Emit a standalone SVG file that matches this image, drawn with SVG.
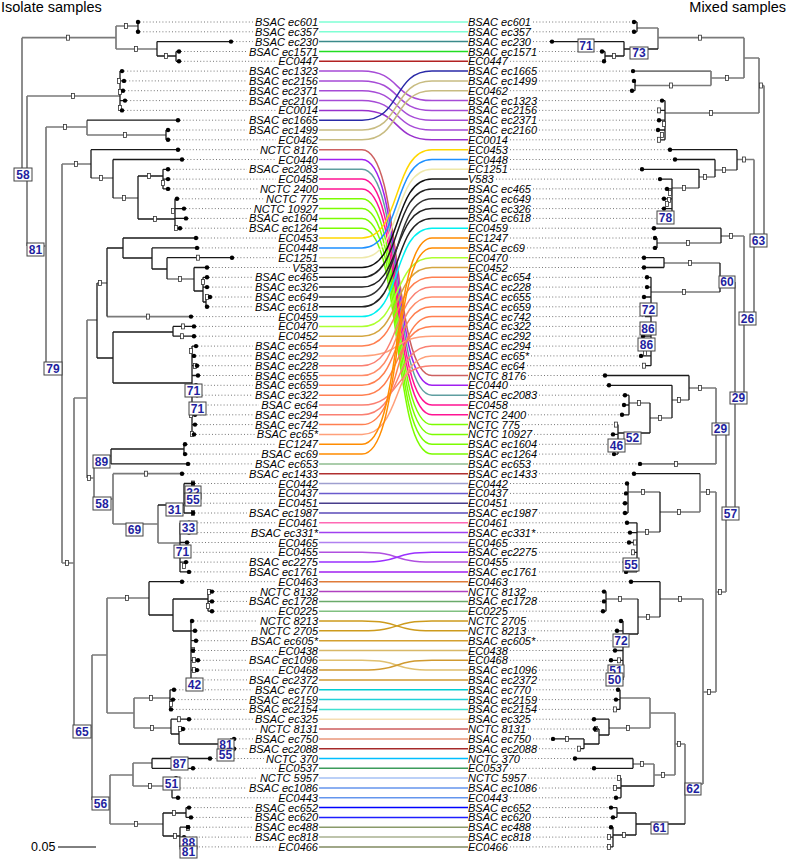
<svg xmlns="http://www.w3.org/2000/svg" xmlns:xlink="http://www.w3.org/1999/xlink" width="787" height="859" viewBox="0 0 787 859">
<style>
.g{fill:none;stroke:#7a7a7a;stroke-width:1.7}
.k{fill:none;stroke:#1a1a1a;stroke-width:1.3}
.dt{fill:none;stroke:#777;stroke-width:1;stroke-dasharray:1 2.2}
.m{fill:#fff;stroke:#333;stroke-width:0.8}
.tl{font-family:"Liberation Sans",Arial,sans-serif;font-size:11px;font-style:italic;fill:#000}
.nb{fill:#fff;stroke:#444;stroke-width:1}
.nt{font-family:"Liberation Sans",Arial,sans-serif;font-size:12px;font-weight:bold;fill:#1f1fa0;text-anchor:middle}
.c path{fill:none;stroke-width:1.5}
.ttl{font-family:"Liberation Sans",Arial,sans-serif;font-size:14.5px;fill:#000}
</style>
<defs>
<rect id="mk" class="m" x="-1.5" y="-2.5" width="3" height="5"/>
<circle id="tp" r="2.2" fill="#000"/>
</defs>
<rect width="787" height="859" fill="#fff"/>
<text class="ttl" x="1" y="12">Isolate samples</text>
<text class="ttl" x="786" y="12" text-anchor="end">Mixed samples</text>

<g id="connectors" class="c">
<path stroke="#7fffd4" d="M319,22H468"/>
<path stroke="#7fffd4" d="M319,31.8H468"/>
<path stroke="#3a8a8a" d="M319,41.6H468"/>
<path stroke="#22dd22" d="M319,51.5H468"/>
<path stroke="#b22222" d="M319,61.3H468"/>
<path stroke="#a64bd6" d="M319,71.1H362C402,71.1 392,100.6 432,100.6H468"/>
<path stroke="#a64bd6" d="M319,80.9H362C402,80.9 392,110.4 432,110.4H468"/>
<path stroke="#a64bd6" d="M319,90.7H362C402,90.7 392,120.2 432,120.2H468"/>
<path stroke="#a64bd6" d="M319,100.6H362C402,100.6 392,130 432,130H468"/>
<path stroke="#9932cc" d="M319,110.4H362C402,110.4 392,139.8 432,139.8H468"/>
<path stroke="#2a2aa8" d="M319,120.2H362C402,120.2 392,71.1 432,71.1H468"/>
<path stroke="#c8bc82" d="M319,130H362C402,130 392,80.9 432,80.9H468"/>
<path stroke="#c8bc82" d="M319,139.8H362C402,139.8 392,90.7 432,90.7H468"/>
<path stroke="#cd6060" d="M319,149.7H362C402,149.7 392,375.5 432,375.5H468"/>
<path stroke="#a020f0" d="M319,159.5H362C402,159.5 392,385.3 432,385.3H468"/>
<path stroke="#5f9ea0" d="M319,169.3H362C402,169.3 392,395.2 432,395.2H468"/>
<path stroke="#ff1493" d="M319,179.1H362C402,179.1 392,405 432,405H468"/>
<path stroke="#ff1493" d="M319,188.9H362C402,188.9 392,414.8 432,414.8H468"/>
<path stroke="#7cfc00" d="M319,198.8H362C402,198.8 392,424.6 432,424.6H468"/>
<path stroke="#7cfc00" d="M319,208.6H362C402,208.6 392,434.4 432,434.4H468"/>
<path stroke="#7cfc00" d="M319,218.4H362C402,218.4 392,444.3 432,444.3H468"/>
<path stroke="#7cfc00" d="M319,228.2H362C402,228.2 392,454.1 432,454.1H468"/>
<path stroke="#ffd700" d="M319,238H362C402,238 392,149.7 432,149.7H468"/>
<path stroke="#1e90ff" d="M319,247.9H362C402,247.9 392,159.5 432,159.5H468"/>
<path stroke="#eee8aa" d="M319,257.7H362C402,257.7 392,169.3 432,169.3H468"/>
<path stroke="#111" d="M319,267.5H362C402,267.5 392,179.1 432,179.1H468"/>
<path stroke="#222" d="M319,277.3H362C402,277.3 392,188.9 432,188.9H468"/>
<path stroke="#222" d="M319,287.1H362C402,287.1 392,208.6 432,208.6H468"/>
<path stroke="#333" d="M319,297H362C402,297 392,198.8 432,198.8H468"/>
<path stroke="#222" d="M319,306.8H362C402,306.8 392,218.4 432,218.4H468"/>
<path stroke="#00f0f0" d="M319,316.6H362C402,316.6 392,228.2 432,228.2H468"/>
<path stroke="#adff2f" d="M319,326.4H362C402,326.4 392,257.7 432,257.7H468"/>
<path stroke="#d4a640" d="M319,336.2H362C402,336.2 392,267.5 432,267.5H468"/>
<path stroke="#ff7f50" d="M319,346.1H362C402,346.1 392,277.3 432,277.3H468"/>
<path stroke="#ffa07a" d="M319,355.9H362C402,355.9 392,336.2 432,336.2H468"/>
<path stroke="#fa8072" d="M319,365.7H362C402,365.7 392,287.1 432,287.1H468"/>
<path stroke="#ff8c69" d="M319,375.5H362C402,375.5 392,297 432,297H468"/>
<path stroke="#ff7f50" d="M319,385.3H362C402,385.3 392,306.8 432,306.8H468"/>
<path stroke="#ff7f50" d="M319,395.2H362C402,395.2 392,326.4 432,326.4H468"/>
<path stroke="#fa8072" d="M319,405H362C402,405 392,365.7 432,365.7H468"/>
<path stroke="#fa8072" d="M319,414.8H362C402,414.8 392,346.1 432,346.1H468"/>
<path stroke="#ff7f50" d="M319,424.6H362C402,424.6 392,316.6 432,316.6H468"/>
<path stroke="#ffa07a" d="M319,434.4H362C402,434.4 392,355.9 432,355.9H468"/>
<path stroke="#ff8c00" d="M319,444.3H362C402,444.3 392,238 432,238H468"/>
<path stroke="#ff8c00" d="M319,454.1H362C402,454.1 392,247.9 432,247.9H468"/>
<path stroke="#8fbc8f" d="M319,463.9H468"/>
<path stroke="#b03030" d="M319,473.7H468"/>
<path stroke="#9f9fcf" d="M319,483.5H468"/>
<path stroke="#6a5acd" d="M319,493.4H468"/>
<path stroke="#483d8b" d="M319,503.2H468"/>
<path stroke="#5a4ab8" d="M319,513H468"/>
<path stroke="#ff69b4" d="M319,522.8H468"/>
<path stroke="#a040f0" d="M319,532.6H468"/>
<path stroke="#b080f0" d="M319,542.5H468"/>
<path stroke="#b050e0" d="M319,552.3H362C402,552.3 392,562.1 432,562.1H468"/>
<path stroke="#9b30ff" d="M319,562.1H362C402,562.1 392,552.3 432,552.3H468"/>
<path stroke="#a020f0" d="M319,571.9H468"/>
<path stroke="#e07b39" d="M319,581.7H468"/>
<path stroke="#b040c0" d="M319,591.6H468"/>
<path stroke="#6aaa6a" d="M319,601.4H468"/>
<path stroke="#80c080" d="M319,611.2H468"/>
<path stroke="#cd9b1d" d="M319,621H362C402,621 392,630.8 432,630.8H468"/>
<path stroke="#cd9b1d" d="M319,630.8H362C402,630.8 392,621 432,621H468"/>
<path stroke="#d4a030" d="M319,640.7H468"/>
<path stroke="#d8b868" d="M319,650.5H468"/>
<path stroke="#e0c070" d="M319,660.3H362C402,660.3 392,670.1 432,670.1H468"/>
<path stroke="#d09a30" d="M319,670.1H362C402,670.1 392,660.3 432,660.3H468"/>
<path stroke="#d09a30" d="M319,679.9H468"/>
<path stroke="#00ced1" d="M319,689.8H468"/>
<path stroke="#20d0d8" d="M319,699.6H468"/>
<path stroke="#40e0d0" d="M319,709.4H468"/>
<path stroke="#f5deb3" d="M319,719.2H468"/>
<path stroke="#cd5c5c" d="M319,729H468"/>
<path stroke="#e9967a" d="M319,738.9H468"/>
<path stroke="#a52a2a" d="M319,748.7H468"/>
<path stroke="#00bfff" d="M319,758.5H468"/>
<path stroke="#3c9c5c" d="M319,768.3H468"/>
<path stroke="#a4c0f4" d="M319,778.1H468"/>
<path stroke="#6495ed" d="M319,788H468"/>
<path stroke="#6495ed" d="M319,797.8H468"/>
<path stroke="#0000ff" d="M319,807.6H468"/>
<path stroke="#1e1eff" d="M319,817.4H468"/>
<path stroke="#8a9a6a" d="M319,827.2H468"/>
<path stroke="#a8b090" d="M319,837.1H468"/>
<path stroke="#808a60" d="M319,846.9H468"/>
</g>

<g id="left-tree">
<path class="dt" d="M140,22H253M140,31.8H253M233,41.6H253M181,51.5H247M181,61.3H276M124,71.1H247M126,80.9H247M125,90.7H247M127,100.6H247M124,110.4H276M180,120.2H247M170,130H247M170,139.8H276M180,149.7H258M184,159.5H276M170,169.3H247M170,179.1H276M170,188.9H258M179,198.8H264M186,208.6H252M188,218.4H247M182,228.2H247M198,238H276M199,247.9H276M234,257.7H276M209,267.5H290M209,277.3H253M209,287.1H253M212,297H253M209,306.8H253M193,316.6H276M196,326.4H276M196,336.2H276M198,346.1H253M196,355.9H253M199,365.7H253M200,375.5H253M198,385.3H253M199,395.2H253M198,405H259M197,414.8H253M197,424.6H253M196,434.4H255M187,444.3H276M187,454.1H259M190,463.9H253M184,473.7H247M195,483.5H276M194,493.4H276M194,503.2H276M195,513H247M191,522.8H276M191,532.6H249M189,542.5H276M187,552.3H276M188,562.1H247M191,571.9H247M184,581.7H276M214,591.6H258M214,601.4H247M214,611.2H276M194,621H258M197,630.8H258M198,640.7H249M195,650.5H276M200,660.3H247M199,670.1H276M198,679.9H247M176,689.8H253M175,699.6H247M173,709.4H247M191,719.2H253M185,729H258M236,738.9H253M236,748.7H247M212,758.5H264M195,768.3H276M178,778.1H258M177,788H247M180,797.8H276M191,807.6H253M193,817.4H253M190,827.2H253M186,837.1H253M186,846.9H276"/>
<path class="g" d="M22,37.7V171M22,37.7H116M116,26V49M116,26H138M116,49H157M22,171H27M27,96V246M27,96H120M27,246H46M46,127V364M46,127H87M87,120.2V135M87,135H166M46,364H62M62,164V563M62,164H91M91,178H113M113,198H138M62,563H74M74,398V727M74,398H87M87,320V478M87,320H97M97,283H107M167,279H194M107,316.6H191M87,478H94M94,456V499M94,456H111M94,499H113M113,473.7V524M113,473.7H182M113,524H158M158,505V543M158,543H180M74,727H92M92,655V800M92,655H107M107,598V713M107,598H149M107,713H134M134,698V728M134,698H170M134,728H171M92,800H110M110,775V824M110,775H133M133,763V786M133,763H152M133,786H163M110,824H163"/>
<path class="k" d="M138,22V31.8M157,41.6V56M157,41.6H231M157,56H176M176,51.5V61.3M176,51.5H179M176,61.3H179M120,71.1V110.4M120,71.1H122M120,80.9H124M120,90.7H123M120,100.6H125M120,110.4H122M87,120.2H178M166,130V139.8M166,130H168M166,139.8H168M91,149.7V178M91,149.7H178M113,159.5V198M113,159.5H182M138,176V219M138,176H163M138,219H175M163,169.3V188.9M163,169.3H168M163,179.1H168M163,188.9H168M175,198.8V228.2M175,198.8H177M175,208.6H184M175,218.4H186M175,228.2H180M97,283V358M107,248V316.6M107,248H123M123,238V258M123,238H196M123,258H152M152,247.9V269M152,247.9H197M152,269H167M167,257.7V279M167,257.7H232M194,267.5V291M194,267.5H207M194,291H203M203,277.3V302M203,277.3H207M203,287.1H207M203,302H206M206,297V306.8M206,297H210M206,306.8H207M97,358H113M113,332V383M113,332H173M173,326.4V336.2M173,326.4H194M173,336.2H194M113,383H192M192,346.1V434.4M192,346.1H196M192,355.9H194M192,365.7H197M192,375.5H198M192,385.3H196M192,395.2H197M192,405H196M192,414.8H195M192,424.6H195M192,434.4H194M111,449V464M111,449H184M111,463.9H188M184,444.3V454.1M184,444.3H185M184,454.1H185M158,505H184M184,483.5V513M184,483.5H193M184,493.4H192M184,503.2H192M184,513H193M180,522.8V571.9M180,522.8H189M180,532.6H189M180,542.5H187M180,552.3H185M180,562.1H186M180,571.9H189M149,581.7V615M149,581.7H182M149,615H173M173,599V631M173,599H208M173,631H191M208,591.6V611.2M208,591.6H212M208,601.4H212M208,611.2H212M191,621V679.9M191,621H192M191,630.8H195M191,640.7H196M191,650.5H193M191,660.3H198M191,670.1H197M191,679.9H196M170,689.8V709.4M170,689.8H174M170,699.6H173M170,709.4H171M171,719.2V734M171,719.2H189M171,734H179M179,729V744M179,729H183M179,744H230M230,738.9V748.7M230,738.9H234M230,748.7H234M152,758.5V768.3M152,758.5H210M152,768.3H193M163,786H172M172,778.1V797.8M172,778.1H176M172,788H175M172,797.8H178M163,813V836M163,813H186M163,836H180M186,807.6V817.4M186,807.6H189M186,817.4H191M180,827.2V846.9M180,827.2H188M180,837.1H184M180,846.9H184"/>
<g id="left-markers">
<use href="#mk" x="68" y="37.7"/><use href="#mk" x="126" y="26"/><use href="#mk" x="136" y="49"/><use href="#mk" x="166" y="56"/><use href="#mk" x="73" y="96"/><use href="#mk" x="119" y="81"/><use href="#mk" x="120" y="92"/><use href="#mk" x="120" y="108"/><use href="#mk" x="65" y="127"/><use href="#mk" x="125" y="135"/><use href="#mk" x="76" y="164"/><use href="#mk" x="101" y="178"/><use href="#mk" x="124" y="198"/><use href="#mk" x="149" y="176"/><use href="#mk" x="155" y="219"/><use href="#mk" x="163" y="183"/><use href="#mk" x="173" y="211"/><use href="#mk" x="176" y="228"/><use href="#mk" x="67" y="563"/><use href="#mk" x="100" y="283"/><use href="#mk" x="198" y="257.7"/><use href="#mk" x="180" y="279"/><use href="#mk" x="203" y="282"/><use href="#mk" x="207" y="297"/><use href="#mk" x="148" y="316.6"/><use href="#mk" x="183" y="326.4"/><use href="#mk" x="182" y="336.2"/><use href="#mk" x="191" y="351"/><use href="#mk" x="195" y="366"/><use href="#mk" x="191" y="415"/><use href="#mk" x="192" y="434"/><use href="#mk" x="89" y="478"/><use href="#mk" x="146" y="473.7"/><use href="#mk" x="193" y="483.5"/><use href="#mk" x="193" y="513"/><use href="#mk" x="185" y="552"/><use href="#mk" x="184" y="566"/><use href="#mk" x="127" y="598"/><use href="#mk" x="209" y="592"/><use href="#mk" x="208" y="606"/><use href="#mk" x="193" y="650"/><use href="#mk" x="194" y="660"/><use href="#mk" x="194" y="670"/><use href="#mk" x="151" y="698"/><use href="#mk" x="171" y="704"/><use href="#mk" x="152" y="728"/><use href="#mk" x="179" y="719.2"/><use href="#mk" x="180" y="729"/><use href="#mk" x="150" y="786"/><use href="#mk" x="136" y="824"/><use href="#mk" x="174" y="813"/><use href="#mk" x="175" y="836"/><use href="#mk" x="188" y="828"/>
</g>
<g id="left-tipdots">
<use href="#tp" x="138" y="22"/><use href="#tp" x="138" y="31.8"/><use href="#tp" x="231" y="41.6"/><use href="#tp" x="179" y="51.5"/><use href="#tp" x="179" y="61.3"/><use href="#tp" x="122" y="71.1"/><use href="#tp" x="124" y="80.9"/><use href="#tp" x="123" y="90.7"/><use href="#tp" x="125" y="100.6"/><use href="#tp" x="122" y="110.4"/><use href="#tp" x="178" y="120.2"/><use href="#tp" x="168" y="130"/><use href="#tp" x="168" y="139.8"/><use href="#tp" x="178" y="149.7"/><use href="#tp" x="182" y="159.5"/><use href="#tp" x="168" y="169.3"/><use href="#tp" x="168" y="179.1"/><use href="#tp" x="168" y="188.9"/><use href="#tp" x="177" y="198.8"/><use href="#tp" x="184" y="208.6"/><use href="#tp" x="186" y="218.4"/><use href="#tp" x="180" y="228.2"/><use href="#tp" x="196" y="238"/><use href="#tp" x="197" y="247.9"/><use href="#tp" x="232" y="257.7"/><use href="#tp" x="207" y="267.5"/><use href="#tp" x="207" y="277.3"/><use href="#tp" x="207" y="287.1"/><use href="#tp" x="210" y="297"/><use href="#tp" x="207" y="306.8"/><use href="#tp" x="191" y="316.6"/><use href="#tp" x="194" y="326.4"/><use href="#tp" x="194" y="336.2"/><use href="#tp" x="196" y="346.1"/><use href="#tp" x="194" y="355.9"/><use href="#tp" x="197" y="365.7"/><use href="#tp" x="198" y="375.5"/><use href="#tp" x="196" y="385.3"/><use href="#tp" x="197" y="395.2"/><use href="#tp" x="196" y="405"/><use href="#tp" x="195" y="414.8"/><use href="#tp" x="195" y="424.6"/><use href="#tp" x="194" y="434.4"/><use href="#tp" x="185" y="444.3"/><use href="#tp" x="185" y="454.1"/><use href="#tp" x="188" y="463.9"/><use href="#tp" x="182" y="473.7"/><use href="#tp" x="193" y="483.5"/><use href="#tp" x="192" y="493.4"/><use href="#tp" x="192" y="503.2"/><use href="#tp" x="193" y="513"/><use href="#tp" x="189" y="522.8"/><use href="#tp" x="189" y="532.6"/><use href="#tp" x="187" y="542.5"/><use href="#tp" x="185" y="552.3"/><use href="#tp" x="186" y="562.1"/><use href="#tp" x="189" y="571.9"/><use href="#tp" x="182" y="581.7"/><use href="#tp" x="212" y="591.6"/><use href="#tp" x="212" y="601.4"/><use href="#tp" x="212" y="611.2"/><use href="#tp" x="192" y="621"/><use href="#tp" x="195" y="630.8"/><use href="#tp" x="196" y="640.7"/><use href="#tp" x="193" y="650.5"/><use href="#tp" x="198" y="660.3"/><use href="#tp" x="197" y="670.1"/><use href="#tp" x="196" y="679.9"/><use href="#tp" x="174" y="689.8"/><use href="#tp" x="173" y="699.6"/><use href="#tp" x="171" y="709.4"/><use href="#tp" x="189" y="719.2"/><use href="#tp" x="183" y="729"/><use href="#tp" x="234" y="738.9"/><use href="#tp" x="234" y="748.7"/><use href="#tp" x="210" y="758.5"/><use href="#tp" x="193" y="768.3"/><use href="#tp" x="176" y="778.1"/><use href="#tp" x="175" y="788"/><use href="#tp" x="178" y="797.8"/><use href="#tp" x="189" y="807.6"/><use href="#tp" x="191" y="817.4"/><use href="#tp" x="188" y="827.2"/><use href="#tp" x="184" y="837.1"/><use href="#tp" x="184" y="846.9"/>
</g>
</g>

<g id="right-tree">
<path class="dt" d="M533,22H632M533,31.8H632M533,41.6H550M539,51.5H600M510,61.3H602M539,71.1H631M539,80.9H632M510,90.7H630M539,100.6H660M539,110.4H657M539,120.2H657M539,130H656M510,139.8H657M510,149.7H668M510,159.5H673M510,169.3H640M496,179.1H658M533,188.9H665M533,198.8H662M533,208.6H662M533,218.4H663M510,228.2H652M510,238H653M527,247.9H653M510,257.7H642M510,267.5H642M533,277.3H645M533,287.1H645M533,297H642M533,306.8H642M533,316.6H643M533,326.4H642M533,336.2H641M533,346.1H641M531,355.9H639M527,365.7H642M528,375.5H603M510,385.3H607M539,395.2H623M510,405H622M528,414.8H620M522,424.6H613M534,434.4H611M539,444.3H610M539,454.1H612M533,463.9H638M539,473.7H632M510,483.5H625M510,493.4H624M510,503.2H623M539,513H623M510,522.8H625M537,532.6H628M510,542.5H627M539,552.3H631M510,562.1H623M539,571.9H624M510,581.7H629M528,591.6H602M539,601.4H602M510,611.2H601M528,621H619M528,630.8H615M537,640.7H614M510,650.5H613M510,660.3H609M539,670.1H610M539,679.9H610M533,689.8H616M539,699.6H614M539,709.4H613M533,719.2H592M528,729H593M533,738.9H551M539,748.7H577M522,758.5H573M510,768.3H592M528,778.1H617M539,788H613M510,797.8H614M533,807.6H609M533,817.4H611M533,827.2H609M533,837.1H607M510,846.9H607"/>
<path class="g" d="M764,85.5V240M759,85.5H764M759,58V113M744,58H759M744,37.7V78M658,37.7H744M658,28V49M637,28H658M711,78H744M711,71.1V85.5M633,71.1H711M635,85.5H711M665,113H759M754,240H764M754,159.5V316M737,159.5H754M715,170H737M699,177H715M672,188H699M744,316H754M744,236V395M721,236H744M657,243H721M735,395H744M735,282V509M720,282H735M664,263H720M651,292H720M726,509H735M726,426V592M716,426H726M716,388V463.9M689,388H716M672,400H689M650,418H672M629,403H650M640,463.9H716M716,592H726M716,492V692M700,492H716M700,473.7V512M660,512H700M628,492H660M637,532H660M703,692H716M703,599V784M660,599H703M638,617H660M606,599H638M685,784H703M685,744V824M675,744H685M675,713V775M650,713H675M650,698V728M620,698H650M609,728H650M654,775H675M654,764V786M633,764H654"/>
<path class="k" d="M637,22V31.8M634,22H637M634,31.8H637M624,49H658M624,41.6V56M552,41.6H624M605,56H624M605,51.5V61.3M602,51.5H605M604,61.3H605M635,80.9V90.7M634,80.9H635M632,90.7H635M665,100.6V139.8M662,100.6H665M659,110.4H665M659,120.2H665M658,130H665M659,139.8H665M737,149.7V170M670,149.7H737M715,159.5V177M675,159.5H715M699,169.3V188M642,169.3H699M672,179.1V218.4M660,179.1H672M667,188.9H672M664,198.8H672M664,208.6H672M665,218.4H672M721,228.2V243M654,228.2H721M657,238V247.9M655,238H657M655,247.9H657M720,263V292M664,257.7V267.5M644,257.7H664M644,267.5H664M651,277.3V365.7M647,277.3H651M647,287.1H651M644,297H651M644,306.8H651M645,316.6H651M644,326.4H651M643,336.2H651M643,346.1H651M641,355.9H651M644,365.7H651M689,375.5V400M605,375.5H689M672,385.3V418M609,385.3H672M650,403V433M629,395.2V414.8M625,395.2H629M624,405H629M622,414.8H629M618,433H650M618,424.6V454.1M615,424.6H618M613,434.4H618M612,444.3H618M614,454.1H618M634,473.7H700M660,492V532M628,483.5V513M627,483.5H628M626,493.4H628M625,503.2H628M625,513H628M637,522.8V571.9M627,522.8H637M630,532.6H637M629,542.5H637M633,552.3H637M625,562.1H637M626,571.9H637M660,581.7V617M631,581.7H660M638,599V634M606,591.6V611.2M604,591.6H606M604,601.4H606M603,611.2H606M623,634H638M623,621V679.9M621,621H623M617,630.8H623M616,640.7H623M615,650.5H623M611,660.3H623M612,670.1H623M612,679.9H623M620,689.8V709.4M618,689.8H620M616,699.6H620M615,709.4H620M609,719.2V735M594,719.2H609M599,735H609M599,729V744M595,729H599M584,744H599M584,738.9V748.7M553,738.9H584M579,748.7H584M633,758.5V768.3M575,758.5H633M594,768.3H633M621,786H654M621,778.1V797.8M619,778.1H621M615,788H621M616,797.8H621M636,824H685M636,813V835M617,813H636M613,835H636M617,807.6V817.4M611,807.6H617M613,817.4H617M613,827.2V846.9M611,827.2H613M609,837.1H613M609,846.9H613"/>
<g id="right-markers">
<use href="#mk" x="700" y="37.7"/><use href="#mk" x="614" y="56"/><use href="#mk" x="727" y="78"/><use href="#mk" x="671" y="85.5"/><use href="#mk" x="711" y="113"/><use href="#mk" x="761" y="85.5"/><use href="#mk" x="744" y="159.5"/><use href="#mk" x="724" y="170"/><use href="#mk" x="705" y="177"/><use href="#mk" x="684" y="188"/><use href="#mk" x="670" y="193"/><use href="#mk" x="669" y="200"/><use href="#mk" x="667" y="204"/><use href="#mk" x="664" y="124"/><use href="#mk" x="662" y="135"/><use href="#mk" x="659" y="110.4"/><use href="#mk" x="659" y="139.8"/><use href="#mk" x="731" y="236"/><use href="#mk" x="688" y="243"/><use href="#mk" x="690" y="263"/><use href="#mk" x="684" y="292"/><use href="#mk" x="645" y="353"/><use href="#mk" x="644" y="365.7"/><use href="#mk" x="700" y="388"/><use href="#mk" x="679" y="400"/><use href="#mk" x="660" y="418"/><use href="#mk" x="639" y="403"/><use href="#mk" x="616" y="424.6"/><use href="#mk" x="676" y="463.9"/><use href="#mk" x="720" y="592"/><use href="#mk" x="708" y="492"/><use href="#mk" x="679" y="512"/><use href="#mk" x="643" y="492"/><use href="#mk" x="647" y="532"/><use href="#mk" x="635" y="542.5"/><use href="#mk" x="633" y="552.3"/><use href="#mk" x="709" y="692"/><use href="#mk" x="680" y="599"/><use href="#mk" x="648" y="617"/><use href="#mk" x="620" y="599"/><use href="#mk" x="619" y="660.3"/><use href="#mk" x="679" y="744"/><use href="#mk" x="628" y="728"/><use href="#mk" x="567" y="738.9"/><use href="#mk" x="579" y="748.7"/><use href="#mk" x="663" y="775"/><use href="#mk" x="642" y="764"/><use href="#mk" x="619" y="778.1"/><use href="#mk" x="615" y="788"/><use href="#mk" x="624" y="835"/><use href="#mk" x="609" y="837.1"/><use href="#mk" x="609" y="846.9"/><use href="#mk" x="615" y="709.4"/><use href="#mk" x="596" y="729"/>
</g>
<g id="right-tipdots">
<use href="#tp" x="634" y="22"/><use href="#tp" x="634" y="31.8"/><use href="#tp" x="552" y="41.6"/><use href="#tp" x="602" y="51.5"/><use href="#tp" x="604" y="61.3"/><use href="#tp" x="633" y="71.1"/><use href="#tp" x="634" y="80.9"/><use href="#tp" x="632" y="90.7"/><use href="#tp" x="662" y="100.6"/><use href="#tp" x="659" y="120.2"/><use href="#tp" x="658" y="130"/><use href="#tp" x="670" y="149.7"/><use href="#tp" x="675" y="159.5"/><use href="#tp" x="642" y="169.3"/><use href="#tp" x="660" y="179.1"/><use href="#tp" x="667" y="188.9"/><use href="#tp" x="664" y="198.8"/><use href="#tp" x="664" y="208.6"/><use href="#tp" x="654" y="228.2"/><use href="#tp" x="655" y="238"/><use href="#tp" x="655" y="247.9"/><use href="#tp" x="644" y="257.7"/><use href="#tp" x="644" y="267.5"/><use href="#tp" x="647" y="277.3"/><use href="#tp" x="647" y="287.1"/><use href="#tp" x="644" y="297"/><use href="#tp" x="644" y="326.4"/><use href="#tp" x="643" y="336.2"/><use href="#tp" x="643" y="346.1"/><use href="#tp" x="641" y="355.9"/><use href="#tp" x="605" y="375.5"/><use href="#tp" x="609" y="385.3"/><use href="#tp" x="625" y="395.2"/><use href="#tp" x="624" y="405"/><use href="#tp" x="622" y="414.8"/><use href="#tp" x="613" y="434.4"/><use href="#tp" x="614" y="454.1"/><use href="#tp" x="640" y="463.9"/><use href="#tp" x="634" y="473.7"/><use href="#tp" x="627" y="483.5"/><use href="#tp" x="626" y="493.4"/><use href="#tp" x="625" y="503.2"/><use href="#tp" x="625" y="513"/><use href="#tp" x="627" y="522.8"/><use href="#tp" x="630" y="532.6"/><use href="#tp" x="629" y="542.5"/><use href="#tp" x="625" y="562.1"/><use href="#tp" x="626" y="571.9"/><use href="#tp" x="631" y="581.7"/><use href="#tp" x="604" y="591.6"/><use href="#tp" x="604" y="601.4"/><use href="#tp" x="603" y="611.2"/><use href="#tp" x="621" y="621"/><use href="#tp" x="617" y="630.8"/><use href="#tp" x="615" y="650.5"/><use href="#tp" x="611" y="660.3"/><use href="#tp" x="618" y="689.8"/><use href="#tp" x="616" y="699.6"/><use href="#tp" x="594" y="719.2"/><use href="#tp" x="595" y="729"/><use href="#tp" x="553" y="738.9"/><use href="#tp" x="575" y="758.5"/><use href="#tp" x="594" y="768.3"/><use href="#tp" x="616" y="797.8"/><use href="#tp" x="611" y="807.6"/><use href="#tp" x="613" y="817.4"/><use href="#tp" x="611" y="827.2"/>
</g>
</g>

<g id="left-labels" class="tl" text-anchor="end">
<text x="318" y="26">BSAC ec601</text><text x="318" y="35.8">BSAC ec357</text><text x="318" y="45.6">BSAC ec230</text><text x="318" y="55.5">BSAC ec1571</text><text x="318" y="65.3">EC0447</text><text x="318" y="75.1">BSAC ec1323</text><text x="318" y="84.9">BSAC ec2156</text><text x="318" y="94.7">BSAC ec2371</text><text x="318" y="104.6">BSAC ec2160</text><text x="318" y="114.4">EC0014</text><text x="318" y="124.2">BSAC ec1665</text><text x="318" y="134">BSAC ec1499</text><text x="318" y="143.8">EC0462</text><text x="318" y="153.7">NCTC 8176</text><text x="318" y="163.5">EC0440</text><text x="318" y="173.3">BSAC ec2083</text><text x="318" y="183.1">EC0458</text><text x="318" y="192.9">NCTC 2400</text><text x="318" y="202.8">NCTC 775</text><text x="318" y="212.6">NCTC 10927</text><text x="318" y="222.4">BSAC ec1604</text><text x="318" y="232.2">BSAC ec1264</text><text x="318" y="242">EC0453</text><text x="318" y="251.9">EC0448</text><text x="318" y="261.7">EC1251</text><text x="318" y="271.5">V583</text><text x="318" y="281.3">BSAC ec465</text><text x="318" y="291.1">BSAC ec326</text><text x="318" y="301">BSAC ec649</text><text x="318" y="310.8">BSAC ec618</text><text x="318" y="320.6">EC0459</text><text x="318" y="330.4">EC0470</text><text x="318" y="340.2">EC0452</text><text x="318" y="350.1">BSAC ec654</text><text x="318" y="359.9">BSAC ec292</text><text x="318" y="369.7">BSAC ec228</text><text x="318" y="379.5">BSAC ec655</text><text x="318" y="389.3">BSAC ec659</text><text x="318" y="399.2">BSAC ec322</text><text x="318" y="409">BSAC ec64</text><text x="318" y="418.8">BSAC ec294</text><text x="318" y="428.6">BSAC ec742</text><text x="318" y="438.4">BSAC ec65*</text><text x="318" y="448.3">EC1247</text><text x="318" y="458.1">BSAC ec69</text><text x="318" y="467.9">BSAC ec653</text><text x="318" y="477.7">BSAC ec1433</text><text x="318" y="487.5">EC0442</text><text x="318" y="497.4">EC0437</text><text x="318" y="507.2">EC0451</text><text x="318" y="517">BSAC ec1987</text><text x="318" y="526.8">EC0461</text><text x="318" y="536.6">BSAC ec331*</text><text x="318" y="546.5">EC0465</text><text x="318" y="556.3">EC0455</text><text x="318" y="566.1">BSAC ec2275</text><text x="318" y="575.9">BSAC ec1761</text><text x="318" y="585.7">EC0463</text><text x="318" y="595.6">NCTC 8132</text><text x="318" y="605.4">BSAC ec1728</text><text x="318" y="615.2">EC0225</text><text x="318" y="625">NCTC 8213</text><text x="318" y="634.8">NCTC 2705</text><text x="318" y="644.7">BSAC ec605*</text><text x="318" y="654.5">EC0438</text><text x="318" y="664.3">BSAC ec1096</text><text x="318" y="674.1">EC0468</text><text x="318" y="683.9">BSAC ec2372</text><text x="318" y="693.8">BSAC ec770</text><text x="318" y="703.6">BSAC ec2159</text><text x="318" y="713.4">BSAC ec2154</text><text x="318" y="723.2">BSAC ec325</text><text x="318" y="733">NCTC 8131</text><text x="318" y="742.9">BSAC ec750</text><text x="318" y="752.7">BSAC ec2088</text><text x="318" y="762.5">NCTC 370</text><text x="318" y="772.3">EC0537</text><text x="318" y="782.1">NCTC 5957</text><text x="318" y="792">BSAC ec1086</text><text x="318" y="801.8">EC0443</text><text x="318" y="811.6">BSAC ec652</text><text x="318" y="821.4">BSAC ec620</text><text x="318" y="831.2">BSAC ec488</text><text x="318" y="841.1">BSAC ec818</text><text x="318" y="850.9">EC0466</text>
</g>

<g id="right-labels" class="tl">
<text x="468" y="26">BSAC ec601</text><text x="468" y="35.8">BSAC ec357</text><text x="468" y="45.6">BSAC ec230</text><text x="468" y="55.5">BSAC ec1571</text><text x="468" y="65.3">EC0447</text><text x="468" y="75.1">BSAC ec1665</text><text x="468" y="84.9">BSAC ec1499</text><text x="468" y="94.7">EC0462</text><text x="468" y="104.6">BSAC ec1323</text><text x="468" y="114.4">BSAC ec2156</text><text x="468" y="124.2">BSAC ec2371</text><text x="468" y="134">BSAC ec2160</text><text x="468" y="143.8">EC0014</text><text x="468" y="153.7">EC0453</text><text x="468" y="163.5">EC0448</text><text x="468" y="173.3">EC1251</text><text x="468" y="183.1">V583</text><text x="468" y="192.9">BSAC ec465</text><text x="468" y="202.8">BSAC ec649</text><text x="468" y="212.6">BSAC ec326</text><text x="468" y="222.4">BSAC ec618</text><text x="468" y="232.2">EC0459</text><text x="468" y="242">EC1247</text><text x="468" y="251.9">BSAC ec69</text><text x="468" y="261.7">EC0470</text><text x="468" y="271.5">EC0452</text><text x="468" y="281.3">BSAC ec654</text><text x="468" y="291.1">BSAC ec228</text><text x="468" y="301">BSAC ec655</text><text x="468" y="310.8">BSAC ec659</text><text x="468" y="320.6">BSAC ec742</text><text x="468" y="330.4">BSAC ec322</text><text x="468" y="340.2">BSAC ec292</text><text x="468" y="350.1">BSAC ec294</text><text x="468" y="359.9">BSAC ec65*</text><text x="468" y="369.7">BSAC ec64</text><text x="468" y="379.5">NCTC 8176</text><text x="468" y="389.3">EC0440</text><text x="468" y="399.2">BSAC ec2083</text><text x="468" y="409">EC0458</text><text x="468" y="418.8">NCTC 2400</text><text x="468" y="428.6">NCTC 775</text><text x="468" y="438.4">NCTC 10927</text><text x="468" y="448.3">BSAC ec1604</text><text x="468" y="458.1">BSAC ec1264</text><text x="468" y="467.9">BSAC ec653</text><text x="468" y="477.7">BSAC ec1433</text><text x="468" y="487.5">EC0442</text><text x="468" y="497.4">EC0437</text><text x="468" y="507.2">EC0451</text><text x="468" y="517">BSAC ec1987</text><text x="468" y="526.8">EC0461</text><text x="468" y="536.6">BSAC ec331*</text><text x="468" y="546.5">EC0465</text><text x="468" y="556.3">BSAC ec2275</text><text x="468" y="566.1">EC0455</text><text x="468" y="575.9">BSAC ec1761</text><text x="468" y="585.7">EC0463</text><text x="468" y="595.6">NCTC 8132</text><text x="468" y="605.4">BSAC ec1728</text><text x="468" y="615.2">EC0225</text><text x="468" y="625">NCTC 2705</text><text x="468" y="634.8">NCTC 8213</text><text x="468" y="644.7">BSAC ec605*</text><text x="468" y="654.5">EC0438</text><text x="468" y="664.3">EC0468</text><text x="468" y="674.1">BSAC ec1096</text><text x="468" y="683.9">BSAC ec2372</text><text x="468" y="693.8">BSAC ec770</text><text x="468" y="703.6">BSAC ec2159</text><text x="468" y="713.4">BSAC ec2154</text><text x="468" y="723.2">BSAC ec325</text><text x="468" y="733">NCTC 8131</text><text x="468" y="742.9">BSAC ec750</text><text x="468" y="752.7">BSAC ec2088</text><text x="468" y="762.5">NCTC 370</text><text x="468" y="772.3">EC0537</text><text x="468" y="782.1">NCTC 5957</text><text x="468" y="792">BSAC ec1086</text><text x="468" y="801.8">EC0443</text><text x="468" y="811.6">BSAC ec652</text><text x="468" y="821.4">BSAC ec620</text><text x="468" y="831.2">BSAC ec488</text><text x="468" y="841.1">BSAC ec818</text><text x="468" y="850.9">EC0466</text>
</g>

<g id="node-labels-left">
<g id="nL58a"><rect class="nb" x="14" y="168" width="18" height="13"/><text class="nt" x="23" y="178.5">58</text></g>
<g id="nL81a"><rect class="nb" x="27" y="243" width="17" height="13"/><text class="nt" x="35.5" y="253.5">81</text></g>
<g id="nL79"><rect class="nb" x="44" y="362" width="18" height="13"/><text class="nt" x="53" y="372.5">79</text></g>
<g id="nL71a"><rect class="nb" x="185" y="384" width="17" height="13"/><text class="nt" x="193.5" y="394.5">71</text></g>
<g id="nL71b"><rect class="nb" x="189" y="402" width="17" height="13"/><text class="nt" x="197.5" y="412.5">71</text></g>
<g id="nL89"><rect class="nb" x="93" y="455" width="17" height="13"/><text class="nt" x="101.5" y="465.5">89</text></g>
<g id="nL58b"><rect class="nb" x="93" y="497" width="18" height="13"/><text class="nt" x="102" y="507.5">58</text></g>
<g id="nL69"><rect class="nb" x="126" y="523" width="17" height="13"/><text class="nt" x="134.5" y="533.5">69</text></g>
<g id="nL31"><rect class="nb" x="166" y="503" width="17" height="13"/><text class="nt" x="174.5" y="513.5">31</text></g>
<g id="nL32"><rect class="nb" x="185" y="486" width="16" height="13"/><text class="nt" x="193" y="496.5">32</text></g>
<g id="nL55a"><rect class="nb" x="185" y="493" width="16" height="13"/><text class="nt" x="193" y="503.5">55</text></g>
<g id="nL33"><rect class="nb" x="180" y="521" width="17" height="13"/><text class="nt" x="188.5" y="531.5">33</text></g>
<g id="nL71c"><rect class="nb" x="174" y="545" width="17" height="13"/><text class="nt" x="182.5" y="555.5">71</text></g>
<g id="nL42"><rect class="nb" x="186" y="678" width="17" height="13"/><text class="nt" x="194.5" y="688.5">42</text></g>
<g id="nL65"><rect class="nb" x="73" y="725" width="18" height="13"/><text class="nt" x="82" y="735.5">65</text></g>
<g id="nL81b"><rect class="nb" x="218" y="739" width="16" height="12"/><text class="nt" x="226" y="749">81</text></g>
<g id="nL55b"><rect class="nb" x="217" y="749" width="17" height="12"/><text class="nt" x="225.5" y="759">55</text></g>
<g id="nL87"><rect class="nb" x="171" y="757" width="17" height="13"/><text class="nt" x="179.5" y="767.5">87</text></g>
<g id="nL51"><rect class="nb" x="163" y="777" width="17" height="13"/><text class="nt" x="171.5" y="787.5">51</text></g>
<g id="nL56"><rect class="nb" x="92" y="797" width="17" height="13"/><text class="nt" x="100.5" y="807.5">56</text></g>
<g id="nL88"><rect class="nb" x="180" y="837" width="17" height="12"/><text class="nt" x="188.5" y="847">88</text></g>
<g id="nL81c"><rect class="nb" x="180" y="846" width="17" height="12"/><text class="nt" x="188.5" y="856">81</text></g>
</g>

<g id="node-labels-right">
<g id="nR71"><rect class="nb" x="578" y="39" width="16" height="13"/><text class="nt" x="586" y="49.5">71</text></g>
<g id="nR73"><rect class="nb" x="630" y="47" width="18" height="12"/><text class="nt" x="639" y="57">73</text></g>
<g id="nR78"><rect class="nb" x="657" y="211" width="17" height="13"/><text class="nt" x="665.5" y="221.5">78</text></g>
<g id="nR63"><rect class="nb" x="750" y="234" width="17" height="13"/><text class="nt" x="758.5" y="244.5">63</text></g>
<g id="nR60"><rect class="nb" x="719" y="276" width="16" height="12"/><text class="nt" x="727" y="286">60</text></g>
<g id="nR72a"><rect class="nb" x="640" y="303" width="17" height="13"/><text class="nt" x="648.5" y="313.5">72</text></g>
<g id="nR26"><rect class="nb" x="739" y="312" width="17" height="13"/><text class="nt" x="747.5" y="322.5">26</text></g>
<g id="nR86a"><rect class="nb" x="640" y="322" width="16" height="13"/><text class="nt" x="648" y="332.5">86</text></g>
<g id="nR86b"><rect class="nb" x="638" y="338" width="17" height="13"/><text class="nt" x="646.5" y="348.5">86</text></g>
<g id="nR29a"><rect class="nb" x="730" y="392" width="17" height="12"/><text class="nt" x="738.5" y="402">29</text></g>
<g id="nR29b"><rect class="nb" x="712" y="423" width="17" height="12"/><text class="nt" x="720.5" y="433">29</text></g>
<g id="nR52"><rect class="nb" x="624" y="432" width="17" height="12"/><text class="nt" x="632.5" y="442">52</text></g>
<g id="nR46"><rect class="nb" x="608" y="439" width="17" height="13"/><text class="nt" x="616.5" y="449.5">46</text></g>
<g id="nR57"><rect class="nb" x="722" y="507" width="17" height="13"/><text class="nt" x="730.5" y="517.5">57</text></g>
<g id="nR55"><rect class="nb" x="623" y="558" width="16" height="13"/><text class="nt" x="631" y="568.5">55</text></g>
<g id="nR72b"><rect class="nb" x="613" y="634" width="16" height="13"/><text class="nt" x="621" y="644.5">72</text></g>
<g id="nR51"><rect class="nb" x="608" y="665" width="16" height="12"/><text class="nt" x="616" y="675">51</text></g>
<g id="nR50"><rect class="nb" x="606" y="673" width="17" height="13"/><text class="nt" x="614.5" y="683.5">50</text></g>
<g id="nR62"><rect class="nb" x="685" y="783" width="16" height="12"/><text class="nt" x="693" y="793">62</text></g>
<g id="nR61"><rect class="nb" x="651" y="822" width="17" height="12"/><text class="nt" x="659.5" y="832">61</text></g>
</g>

<g id="scale-bar">
<text x="31" y="851" font-family="Liberation Sans, Arial, sans-serif" font-size="12.5">0.05</text>
<line x1="58" y1="847" x2="96" y2="847" stroke="#000" stroke-width="1"/>
</g>
</svg>
